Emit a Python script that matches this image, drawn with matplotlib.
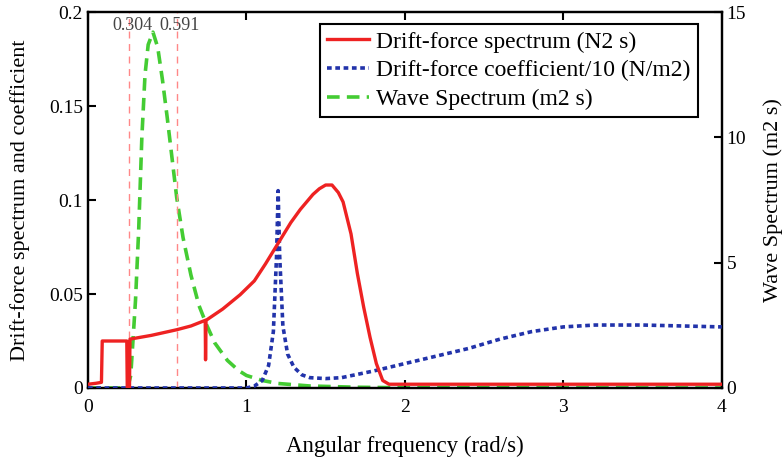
import matplotlib as mpl
mpl.use('Agg')
import matplotlib.pyplot as plt

plt.rcParams['font.family'] = ['Liberation Serif', 'DejaVu Serif']

# Drift-force spectrum (left axis)
red_x = [0.0, 0.05, 0.085, 0.09, 0.245, 0.248, 0.262, 0.265, 0.4, 0.56, 0.65, 0.74,
         0.742, 0.745, 0.85, 0.96, 1.05, 1.12, 1.2, 1.28, 1.34, 1.42, 1.46, 1.5, 1.54,
         1.58, 1.61, 1.66, 1.70, 1.74, 1.78, 1.82, 1.86, 1.9, 4.0]
red_y = [0.002, 0.0025, 0.003, 0.025, 0.025, 0.0, 0.0, 0.026, 0.028, 0.031, 0.033, 0.036,
         0.015, 0.036, 0.042, 0.0496, 0.057, 0.066, 0.077, 0.088, 0.095, 0.103, 0.106, 0.108,
         0.108, 0.104, 0.099, 0.082, 0.061, 0.043, 0.027, 0.013, 0.004, 0.002, 0.002]

# Drift-force coefficient / 10 (left axis)
blue_x = [0.0, 1.0, 1.05, 1.1, 1.14, 1.17, 1.19, 1.2, 1.21, 1.23, 1.26, 1.3, 1.35, 1.4,
          1.5, 1.6, 1.8, 2.0, 2.2, 2.4, 2.6, 2.8, 3.0, 3.2, 3.5, 4.0]
blue_y = [0.0, 0.0, 0.001, 0.004, 0.012, 0.03, 0.07, 0.105, 0.07, 0.033, 0.018, 0.011,
          0.007, 0.0055, 0.005, 0.0055, 0.009, 0.013, 0.017, 0.021, 0.026, 0.030, 0.0325,
          0.0335, 0.0335, 0.0325]

# Wave spectrum (right axis)
green_x = [0.0, 0.25, 0.27, 0.3, 0.32, 0.34, 0.36, 0.38, 0.41, 0.44, 0.47, 0.5, 0.53,
           0.56, 0.6, 0.65, 0.7, 0.75, 0.8, 0.88, 0.95, 1.0, 1.1, 1.2, 1.4, 1.7, 2.0, 4.0]
green_y = [0.0, 0.0, 0.5, 3.5, 6.3, 10.0, 12.5, 13.7, 14.2, 13.6, 12.3, 10.8, 9.2,
           7.6, 6.0, 4.5, 3.3, 2.5, 1.8, 1.1, 0.7, 0.5, 0.3, 0.18, 0.08, 0.03, 0.01, 0.0]

marks_x = [0.26, 0.56]
marks_lbl = ['0.304', '0.591']

fig = plt.figure(figsize=(7.82, 4.66), dpi=100)
ax = fig.add_axes([0.1125, 0.1674, 0.8105, 0.8066])
ax2 = ax.twinx()

l1, = ax.plot(red_x, red_y, color='#ee2222', lw=2.4, label='Drift-force spectrum (N2 s)', zorder=4)
l2, = ax.plot(blue_x, blue_y, color='#2233aa', lw=2.6, ls=(0, (1.3, 1.0)),
              label='Drift-force coefficient/10 (N/m2)', zorder=3)
l3, = ax2.plot(green_x, green_y, color='#44cc33', lw=2.6, ls=(0, (3.5, 2.0)),
               label='Wave Spectrum (m2 s)', zorder=2)

for xm in marks_x:
    ax.axvline(xm, color='#ff8888', lw=1.0, ls=(0, (5, 4)), zorder=1)
ax.text(marks_x[0] + 0.02, 0.193, marks_lbl[0], ha='center', va='center', fontsize=13, color='#444444')
ax.text(marks_x[1] + 0.02, 0.193, marks_lbl[1], ha='center', va='center', fontsize=13, color='#444444')

ax.set_xlim(0, 4)
ax.set_ylim(0, 0.2)
ax2.set_ylim(0, 15)
ax.set_xticks([0, 1, 2, 3, 4])
ax.set_xticklabels(['0', '1', '2', '3', '4'])
ax.set_yticks([0, 0.05, 0.1, 0.15, 0.2])
ax.set_yticklabels(['0', '0.05', '0.1', '0.15', '0.2'])
ax2.set_yticks([0, 5, 10, 15])

ax.tick_params(axis='both', direction='in', length=6, width=1.5, labelsize=14, top=True)
ax2.tick_params(axis='y', direction='in', length=6, width=1.5, labelsize=14)
ax.tick_params(axis='x', pad=8)
for a in (ax, ax2):
    for sp in a.spines.values():
        sp.set_linewidth(1.6)

ax.set_xlabel('Angular frequency (rad/s)', fontsize=16.5, labelpad=14)
ax.set_ylabel('Drift-force spectrum and coefficient', fontsize=16, labelpad=14)
ax2.set_ylabel('Wave Spectrum (m2 s)', fontsize=16, labelpad=12)

ax.set_zorder(ax2.get_zorder() + 1)
ax.patch.set_visible(False)

leg = ax.legend(handles=[l1, l2, l3], loc='upper right', bbox_to_anchor=(0.962, 0.968),
                fontsize=17, frameon=True, fancybox=False, handlelength=1.8,
                handletextpad=0.3, borderpad=0.3, labelspacing=0.3, borderaxespad=0)
leg.get_frame().set_edgecolor('black')
leg.get_frame().set_linewidth(1.5)
leg.get_frame().set_alpha(1)

plt.savefig('out.png', dpi=100)
plt.close(fig)
